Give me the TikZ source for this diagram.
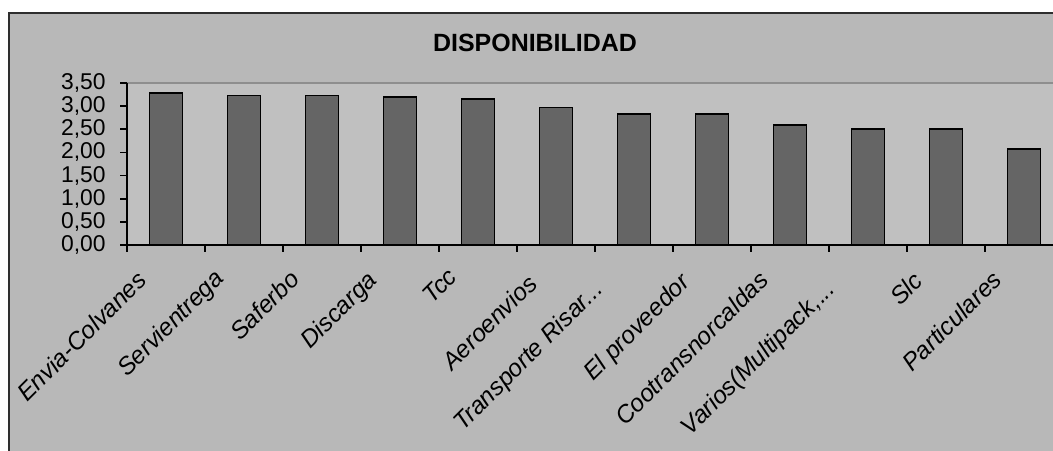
\documentclass[tikz,border=0pt]{standalone}
\usepackage{fontspec}
\setmainfont{Liberation Sans}
\usetikzlibrary{positioning}
\definecolor{chartbg}{HTML}{B8B8B8}
\definecolor{plotbg}{HTML}{C0C0C0}
\definecolor{barfill}{HTML}{656565}
\definecolor{plotedge}{HTML}{8E8E8E}
\definecolor{frameedge}{HTML}{2E2E2E}

\begin{document}
\begin{tikzpicture}[
        x=0.02cm, y=-0.02cm,
        title/.style={font=\fontsize{14.2}{17}\selectfont\bfseries},
        bar/.style={fill=barfill, draw=black, line width=1.1pt},
        ylab/.style={anchor=east, inner sep=0pt, font=\fontsize{13}{13}\selectfont},
        catlab/.style={anchor=base west, rotate=45, inner sep=0pt, font=\fontsize{13.9}{14}\selectfont\itshape}
      ]
        \useasboundingbox (0,0) rectangle (1053,450);
        \clip (0,0) rectangle (1053,450);
        \fill[white] (0,0) rectangle (1053,450);

        % chart area and plot area
        \draw[frameedge, fill=chartbg, line width=1.2pt] (9,13) rectangle (1090,490);
        \fill[plotbg] (127,83) rectangle (1063,245);
        \draw[plotedge, line width=1pt] (127,83) -- (1063,83) -- (1063,245);

        \node (titulo) [title] at (535,43) {DISPONIBILIDAD};

        % bars
        \foreach \v/\name/\sx/\sy [count=\i from 0] in {
            3.28/{Envia-Colvanes}/27/403, 3.23/{Servientrega}/127/378,
            3.23/{Saferbo}/240/342, 3.19/{Discarga}/310/350,
            3.15/{Tcc}/432/305, 2.97/{Aeroenvios}/452/372,
            2.84/{Transporte Risar...}/463/432, 2.84/{El proveedor}/593/382,
            2.59/{Cootransnorcaldas}/625/427, 2.50/{Varios(Multipack,...}/690/437,
            2.50/{Slc}/900/307, 2.07/{Particulares}/912/373} {
          \draw[bar] ({149.5+78*\i},245) rectangle ({182.5+78*\i},{245-46.29*\v});
          \node (cat\i) [catlab] at (\sx,\sy) {\name};
        }

        % axes
        \draw[line width=0.9pt] (127,83) -- (127,245) -- (1063,245);
        \foreach \v/\t [count=\k] in {0/{0,00},0.5/{0,50},1/{1,00},1.5/{1,50},2/{2,00},2.5/{2,50},3/{3,00},3.5/{3,50}} {
          \draw[line width=0.9pt] (120,{245-46.29*\v}) -- (127,{245-46.29*\v});
          \node (eje\k) [ylab] at (106,{245-46.29*\v}) {\t};
        }
        \foreach \i in {0,...,12}
          \draw[line width=0.9pt] ({127+78*\i},245) -- ({127+78*\i},252);

      \end{tikzpicture}
\end{document}
